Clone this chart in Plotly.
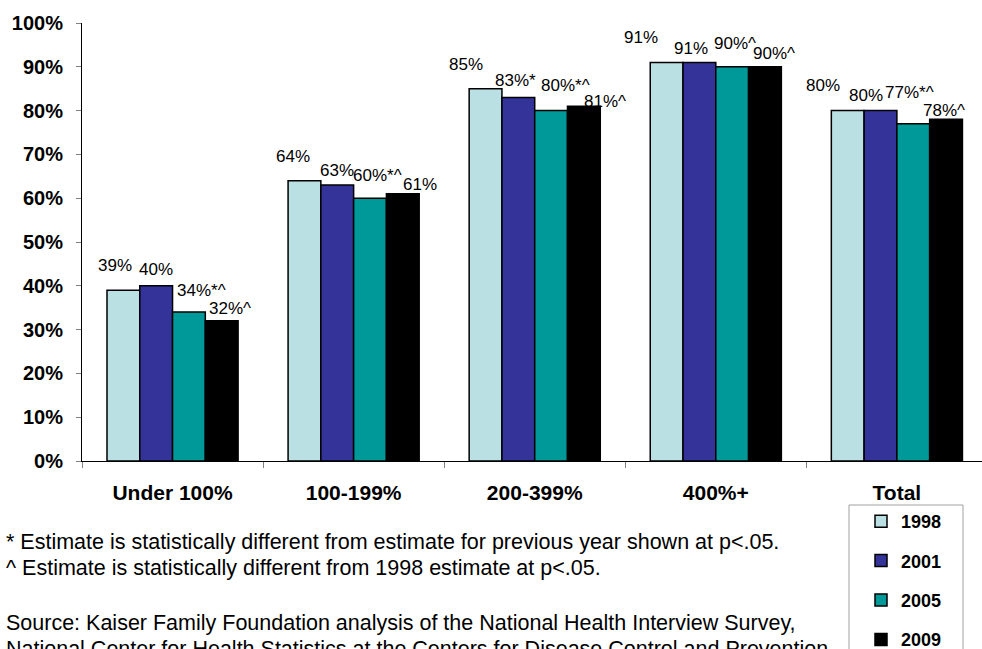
import plotly.graph_objects as go

# Income groups (percent of poverty level) and survey years
categories = ["Under 100%", "100-199%", "200-399%", "400%+", "Total"]
years = ["1998", "2001", "2005", "2009"]

values_1998 = [39, 64, 85, 91, 80]
values_2001 = [40, 63, 83, 91, 80]
values_2005 = [34, 60, 80, 90, 77]
values_2009 = [32, 61, 81, 90, 78]

# Significance markers appended to the value labels
flags_1998 = ["", "", "", "", ""]
flags_2001 = ["", "", "*", "", ""]
flags_2005 = ["*^", "*^", "*^", "^", "*^"]
flags_2009 = ["^", "", "^", "^", "^"]

y_ticks = [0, 10, 20, 30, 40, 50, 60, 70, 80, 90, 100]
y_tick_text = [f"{t}%" for t in y_ticks]

series_values = [values_1998, values_2001, values_2005, values_2009]
series_flags = [flags_1998, flags_2001, flags_2005, flags_2009]
colors = ["#BBE0E3", "#333399", "#009999", "#000000"]

# Label nudges (px): horizontal offset from bar centre, height above bar top
label_dx = [
    [-8, -11, -20, -26, -25],
    [0, 0, -3, -8, -15],
    [13, 7, 14, 3, -4],
    [8, 17, 21, 9, -2],
]
label_dy = [
    [25, 24, 24, 25, 25],
    [16, 15, 17, 14, 15],
    [22, 23, 25, 23, 31],
    [12, 9, 5, 13, 9],
]

W, H = 982, 649
M_L, M_R, M_T, M_B = 82, 0, 23, 188
BARGAP = 0.276
bar_w = (1 - BARGAP) / len(years)

FONT = "Liberation Sans, Arial, sans-serif"


def py(pixel_y):
    """Convert a pixel row to paper y coordinates."""
    return (H - M_B - pixel_y) / (H - M_T - M_B)


def px(pixel_x):
    return (pixel_x - M_L) / (W - M_L - M_R)


fig = go.Figure()
for j, (yr, vals) in enumerate(zip(years, series_values)):
    fig.add_trace(go.Bar(
        name=yr,
        x=categories,
        y=vals,
        marker=dict(color=colors[j], line=dict(color="#000000", width=1.5)),
        legendgroup=yr,
        hoverinfo="skip",
    ))

annotations = []
for j, (vals, flags) in enumerate(zip(series_values, series_flags)):
    for i, v in enumerate(vals):
        annotations.append(dict(
            x=i + (j - 1.5) * bar_w, y=v, xref="x", yref="y",
            text=f"{v}%{flags[i]}",
            showarrow=False, xanchor="center", yanchor="middle",
            xshift=label_dx[j][i], yshift=label_dy[j][i],
            font=dict(family=FONT, size=17, color="#000000"),
        ))

notes = [
    ("* Estimate is statistically different from estimate for previous year shown at p<.05.", 542),
    ("^ Estimate is statistically different from 1998 estimate at p<.05.", 568),
    ("Source: Kaiser Family Foundation analysis of the National Health Interview Survey,", 623),
    ("National Center for Health Statistics at the Centers for Disease Control and Prevention.", 649),
]
for text, yy in notes:
    annotations.append(dict(
        x=px(4), y=py(yy), xref="paper", yref="paper",
        text=text, showarrow=False, xanchor="left", yanchor="middle",
        font=dict(family=FONT, size=21.5, color="#000000"),
    ))

# Frame around the legend entries
legend_frame = dict(
    type="rect", xref="paper", yref="paper",
    x0=px(849), x1=px(963), y0=py(660), y1=py(505),
    line=dict(color="#A0A0A0", width=1), fillcolor="#FFFFFF", layer="below",
)

fig.update_layout(
    width=W, height=H,
    margin=dict(l=M_L, r=M_R, t=M_T, b=M_B, pad=0, autoexpand=False),
    paper_bgcolor="#FFFFFF", plot_bgcolor="#FFFFFF",
    barmode="group", bargap=BARGAP, bargroupgap=0,
    showlegend=True,
    legend=dict(
        x=px(861), y=py(503), xanchor="left", yanchor="top",
        borderwidth=0, bgcolor="rgba(0,0,0,0)",
        font=dict(family=FONT, size=18, color="#000000", weight="bold"),
        tracegroupgap=13, traceorder="grouped",
        itemwidth=30,
    ),
    shapes=[legend_frame],
    annotations=annotations,
    xaxis=dict(
        type="category", range=[-0.5, 4.47],
        showline=True, linecolor="#000000", linewidth=1,
        ticks="outside", tickson="boundaries", ticklen=6, tickcolor="#808080",
        showgrid=False, zeroline=False,
        tickfont=dict(family=FONT, size=21, color="#000000", weight="bold"),
        ticklabelstandoff=13,
    ),
    yaxis=dict(
        range=[0, 100], tickmode="array", tickvals=y_ticks, ticktext=y_tick_text,
        showline=True, linecolor="#000000", linewidth=1,
        ticks="outside", ticklen=5, tickcolor="#808080",
        showgrid=False, zeroline=False,
        tickfont=dict(family=FONT, size=20, color="#000000", weight="bold"),
        ticklabelstandoff=9,
    ),
)

fig.write_html("out.html")
